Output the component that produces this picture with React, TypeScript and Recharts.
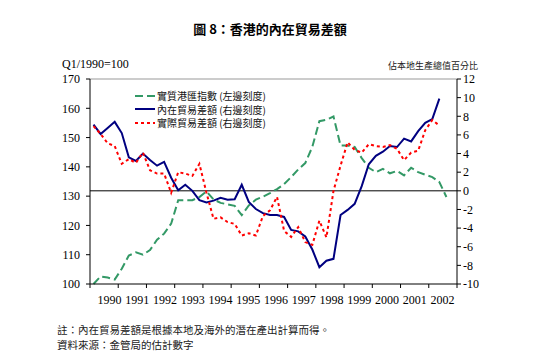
import React from 'react'
import {
  ComposedChart,
  Legend,
  Line,
  ReferenceLine,
  XAxis,
  YAxis,
} from 'recharts'

const CJK = '"Noto Sans CJK TC", "Noto Sans CJK SC", sans-serif'
const SERIF = '"Liberation Serif", "Times New Roman", serif'

const YEARS = [
  '1990', '1991', '1992', '1993', '1994', '1995', '1996',
  '1997', '1998', '1999', '2000', '2001', '2002',
]
const LEFT_TICKS = [100, 110, 120, 130, 140, 150, 160, 170]
const RIGHT_TICKS = [-10, -8, -6, -4, -2, 0, 2, 4, 6, 8, 10, 12]

// quarterly from 1990 Q1
const REER = [
  100.0, 102.6, 102.2, 101.5, 105.2, 109.7, 110.8, 110.0, 111.6, 115.1,
  117.2, 120.6, 128.6, 128.6, 128.6, 129.7, 131.6, 128.9, 127.7, 127.2,
  126.7, 123.5, 126.8, 128.8, 129.8, 131.0, 132.4, 134.1, 136.5, 139.1,
  141.3, 146.8, 155.6, 156.1, 157.2, 147.3, 147.3, 146.8, 143.0, 139.7,
  138.2, 139.3, 137.8, 138.6, 137.1, 139.7, 138.2, 137.3, 136.5, 134.8,
  129.7,
]
const UNDERLYING = [
  7.1, 6.1, 6.75, 7.4, 6.2, 3.6, 3.2, 4.0, 3.3, 2.7,
  3.1, 1.4, 0.05, 0.65, 0.0, -1.0, -1.25, -1.05, -0.75, -0.95,
  -0.9, 0.65, -1.2, -1.95, -2.4, -2.6, -2.6, -2.8, -4.2, -4.35,
  -4.9, -6.3, -8.2, -7.5, -7.3, -2.6, -2.05, -1.4, 0.5, 2.85,
  3.75, 4.2, 4.8, 4.7, 5.6, 5.3, 6.4, 7.3, 7.7, 9.9,
]
const ACTUAL = [
  6.95, 6.1, 5.1, 4.8, 2.9, 3.4, 3.0, 4.1, 2.2, 1.85,
  1.85, -0.2, 2.0, 1.85, 1.6, 2.9, -0.2, -3.0, -2.85, -3.35,
  -3.55, -4.8, -4.55, -4.8, -2.7, -2.1, -0.65, -4.3, -4.95, -3.9,
  -5.5, -5.8, -3.2, -5.0, 0.0, 2.7, 5.2, 4.4, 4.1, 5.0,
  4.8, 4.7, 4.9, 4.5, 3.3, 4.1, 4.3, 6.5, 7.6, 7.0,
]

const SERIES = [
  { key: 'reer', axis: 'left', name: '實質港匯指數 (左邊刻度)', color: '#339966', dash: '8 4', legendDash: '8 4' },
  { key: 'underlying', axis: 'right', name: '內在貿易差額 (右邊刻度)', color: '#000080', dash: undefined, legendDash: undefined },
  { key: 'actual', axis: 'right', name: '實際貿易差額 (右邊刻度)', color: '#ff0000', dash: '3 3', legendDash: '3 3' },
]

const data = REER.map((v, i) => ({
  q: i + 0.5,
  reer: v,
  underlying: i < UNDERLYING.length ? UNDERLYING[i] : null,
  actual: i < ACTUAL.length ? ACTUAL[i] : null,
}))

const X_TICKS = YEARS.map((_, k) => k * 4).concat(YEARS.length * 4)

const YearTick = (props: any) => {
  const { x, y, index } = props
  if (index >= YEARS.length) return <g />
  return (
    <text
      x={x + 19.5 - 0.48 * index}
      y={y}
      dy={14}
      textAnchor="middle"
      fontFamily={SERIF}
      fontSize={12}
      fill="#000"
    >
      {YEARS[index]}
    </text>
  )
}

const LegendBox = () => (
  <div style={{ fontFamily: CJK, fontSize: 10, color: '#111' }}>
    {SERIES.map((s) => (
      <div
        key={s.key}
        style={{ display: 'flex', alignItems: 'center', height: 13.5, lineHeight: '13.5px' }}
      >
        <svg width={22} height={6} style={{ display: 'block' }}>
          <line
            x1={2}
            y1={3}
            x2={22}
            y2={3}
            stroke={s.color}
            strokeWidth={2}
            strokeDasharray={s.legendDash}
          />
        </svg>
        <span style={{ marginLeft: 2, whiteSpace: 'nowrap' }}>{s.name}</span>
      </div>
    ))}
  </div>
)

const axisTick = { fontFamily: SERIF, fontSize: 12, fill: '#000' }

export default function App() {
  return (
    <div
      style={{
        position: 'absolute',
        left: 0,
        top: 0,
        width: 548,
        height: 361,
        background: '#fff',
      }}
    >
      <div
        style={{
          position: 'absolute',
          left: 0,
          top: 21,
          width: 540,
          textAlign: 'center',
          fontFamily: CJK,
          fontWeight: 700,
          fontSize: 13,
          lineHeight: '15px',
        }}
      >
        圖 8：香港的內在貿易差額
      </div>
      <div
        style={{
          position: 'absolute',
          left: 62,
          top: 59,
          fontFamily: SERIF,
          fontSize: 12,
          lineHeight: '11px',
        }}
      >
        Q1/1990=100
      </div>
      <div
        style={{
          position: 'absolute',
          right: 548 - 478,
          top: 61,
          fontFamily: CJK,
          fontSize: 9,
          lineHeight: '10px',
          color: '#222',
        }}
      >
        佔本地生產總值百分比
      </div>

      <ComposedChart
        width={548}
        height={361}
        data={data}
        margin={{ top: 79, right: 51, bottom: 47, left: 50 }}
      >
        <XAxis
          dataKey="q"
          type="number"
          domain={[0, YEARS.length * 4]}
          ticks={X_TICKS}
          interval={0}
          height={30}
          tickSize={4}
          tickMargin={2}
          axisLine={{ stroke: '#000' }}
          tickLine={{ stroke: '#000' }}
          tick={<YearTick />}
        />
        <YAxis
          yAxisId="left"
          domain={[100, 170]}
          ticks={LEFT_TICKS}
          interval={0}
          width={40}
          tickSize={4}
          tickMargin={6}
          axisLine={{ stroke: '#000' }}
          tickLine={{ stroke: '#000' }}
          tick={axisTick}
        />
        <YAxis
          yAxisId="right"
          orientation="right"
          domain={[-10, 12]}
          ticks={RIGHT_TICKS}
          interval={0}
          width={40}
          tickSize={4}
          tickMargin={2}
          axisLine={{ stroke: '#000' }}
          tickLine={{ stroke: '#000' }}
          tick={axisTick}
        />
        <ReferenceLine yAxisId="left" y={170} stroke="#999" />
        <ReferenceLine yAxisId="right" y={0} stroke="#000" strokeWidth={1} />
        <Legend
          layout="vertical"
          align="center"
          verticalAlign="middle"
          wrapperStyle={{ left: 133, top: 89, width: 160, height: 42 }}
          content={<LegendBox />}
        />
        {SERIES.map((s) => (
          <Line
            key={s.key}
            yAxisId={s.axis}
            type="linear"
            dataKey={s.key}
            name={s.name}
            stroke={s.color}
            strokeWidth={2}
            strokeDasharray={s.dash}
            dot={false}
            activeDot={false}
            isAnimationActive={false}
          />
        ))}
      </ComposedChart>

      <div
        style={{
          position: 'absolute',
          left: 57,
          top: 322,
          fontFamily: CJK,
          fontSize: 10.5,
          lineHeight: '15px',
          color: '#222',
        }}
      >
        <div>註：內在貿易差額是根據本地及海外的潛在產出計算而得。</div>
        <div>資料來源：金管局的估計數字</div>
      </div>
    </div>
  )
}
